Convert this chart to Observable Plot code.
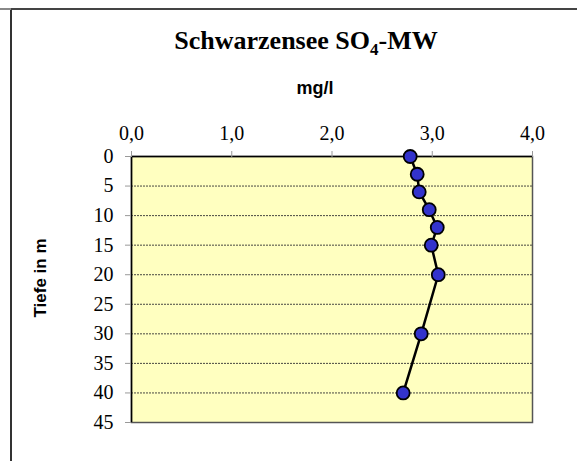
<!DOCTYPE html>
<html>
<head>
<meta charset="utf-8">
<script src="https://cdn.jsdelivr.net/npm/d3@7"></script>
<script src="https://cdn.jsdelivr.net/npm/@observablehq/plot@0.6"></script>
<style>
  html, body { margin: 0; padding: 0; background: #fff; }
  #wrap { position: relative; width: 577px; height: 461px; overflow: hidden; }
  #frame { position: absolute; left: 10px; top: 8px; width: 565px; height: 470px;
           border-top: 2px solid #444; border-left: 2px solid #333; border-right: 2px solid #333; }
  #lead { position: absolute; left: 0; top: 8px; width: 11px; border-top: 2px solid #888; }
  svg { position: absolute; left: 0; top: 0; }
</style>
</head>
<body>
<div id="wrap"><div id="frame"></div><div id="lead"></div></div>
<script>
const depths = [0, 3, 6, 9, 12, 15, 20, 30, 40];
const so4 = [2.78, 2.85, 2.87, 2.97, 3.05, 2.99, 3.06, 2.89, 2.71];
const xTicks = [0, 1, 2, 3, 4];
const yTicks = [0, 5, 10, 15, 20, 25, 30, 35, 40, 45];
const gridTicks = [5, 10, 15, 20, 25, 30, 35, 40];
const title = "Schwarzensee SO";
const titleSub = "4";
const titleEnd = "-MW";
const unitLabel = "mg/l";
const depthLabel = "Tiefe in m";

const data = depths.map((d, i) => ({depth: d, value: so4[i]}));
const fmt = v => v.toFixed(1).replace(".", ",");

const chart = Plot.plot({
  width: 577,
  height: 461,
  marginLeft: 131,
  marginRight: 45,
  marginTop: 156,
  marginBottom: 39,
  style: {fontFamily: "'Liberation Serif', 'Times New Roman', serif", fontSize: "20px", color: "#000", background: "transparent"},
  x: {domain: [0, 4], axis: null},
  y: {domain: [0, 45], reverse: true, axis: null},
  marks: [
    Plot.frame({fill: "#FFFFC0", stroke: null}),
    Plot.gridY(gridTicks, {stroke: "#333", strokeOpacity: 0.9, strokeWidth: 1, strokeDasharray: "2,1"}),
    Plot.frame({stroke: "#555", strokeWidth: 1.5}),
    Plot.ruleX([0], {stroke: "#000", strokeWidth: 1.5}),
    Plot.ruleY([0], {stroke: "#000", strokeWidth: 1.5}),
    Plot.axisX(xTicks, {anchor: "top", tickFormat: fmt, tickSize: 6, tickPadding: 11, stroke: "#999", fontSize: 20, label: null}),
    Plot.axisY(yTicks, {anchor: "left", tickSize: 6, tickPadding: 12, stroke: "#999", fontSize: 20, label: null}),
    Plot.line(data, {x: "value", y: "depth", stroke: "#000", strokeWidth: 2.5}),
    Plot.dot(data, {x: "value", y: "depth", r: 6.5, fill: "#3333CC", stroke: "#000", strokeWidth: 1.8})
  ]
});

const svg = d3.select(chart);
const t = svg.append("text")
  .attr("x", 306).attr("y", 49)
  .attr("text-anchor", "middle")
  .style("font-family", "'Liberation Serif', 'Times New Roman', serif")
  .style("font-weight", "bold").style("font-size", "26px").attr("fill", "#000");
t.append("tspan").text(title);
t.append("tspan").attr("dy", 6).style("font-size", "17px").text(titleSub);
t.append("tspan").attr("dy", -6).text(titleEnd);

svg.append("text")
  .attr("x", 315).attr("y", 94)
  .attr("text-anchor", "middle")
  .style("font-family", "'Liberation Sans', Arial, sans-serif")
  .style("font-weight", "bold").style("font-size", "18px").attr("fill", "#000")
  .text(unitLabel);

svg.append("text")
  .attr("transform", "translate(46,278) rotate(-90)")
  .attr("text-anchor", "middle")
  .style("font-family", "'Liberation Sans', Arial, sans-serif")
  .style("font-weight", "bold").style("font-size", "17px").attr("fill", "#000")
  .text(depthLabel);

document.getElementById("wrap").appendChild(chart);
</script>
</body>
</html>
